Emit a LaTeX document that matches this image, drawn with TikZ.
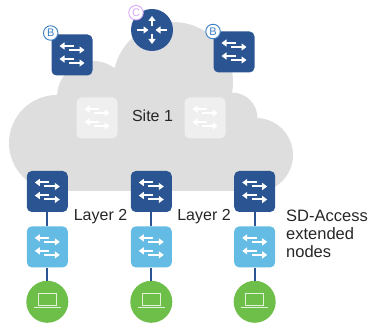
\documentclass[tikz,border=0pt]{standalone}
\usepackage{fontspec}
\setmainfont{Liberation Sans}
\usetikzlibrary{arrows.meta,positioning}
\definecolor{cloudgray}{HTML}{DEDEDE}
\definecolor{darkblue}{HTML}{2B5592}
\definecolor{lightblue}{HTML}{64BBE3}
\definecolor{lightgreen}{HTML}{6EBE4A}
\definecolor{paleswitch}{HTML}{EFEFEF}
\definecolor{badgeblue}{HTML}{3A7FC4}
\definecolor{badgepurple}{HTML}{D9A6F5}
\tikzset{
  flow/.style={white,line width=2pt,-{Triangle[length=5pt,width=7pt]}},
  switchbox/.style={rectangle,fill=#1,rounded corners=5pt,minimum size=41pt,inner sep=0pt,
    path picture={
      \begin{scope}[shift={(path picture bounding box.center)}]
        \draw [flow] (2,-9) -- (-12.5,-9);
        \draw [flow] (-3,-5) -- (12.5,-5);
        \draw [flow] (2,4) -- (-12.5,4);
        \draw [flow] (-3,8) -- (12.5,8);
      \end{scope}
    }},
  routerdot/.style={circle,fill=darkblue,minimum size=42pt,inner sep=0pt,
    path picture={
      \begin{scope}[shift={(path picture bounding box.center)}]
        \draw [flow] (0,-4) -- (0,-14);
        \draw [flow] (0,4) -- (0,14);
        \draw [flow] (-15,0) -- (-3.5,0);
        \draw [flow] (15,0) -- (3.5,0);
      \end{scope}
    }},
  laptopdot/.style={circle,fill=lightgreen,minimum size=42pt,inner sep=0pt,
    path picture={
      \begin{scope}[shift={(path picture bounding box.center)}]
        \draw [draw=white!80!lightgreen,line width=1.2pt] (-9,3.5) rectangle (9,-8);
        \draw [draw=white!80!lightgreen,line width=1.2pt] (-13.5,6) -- (13.5,6);
      \end{scope}
    }},
  badge/.style={circle,draw=#1,fill=white,text=#1,line width=0.9pt,minimum size=14.5pt,
    inner sep=0pt,font=\fontsize{11}{11}\selectfont},
  uplink/.style={darkblue,line width=2pt},
  caption/.style={font=\fontsize{16}{18}\selectfont,text=black!85,inner sep=0pt}
}
\begin{document}
\begin{tikzpicture}[x=1pt,y=-1pt]
    \useasboundingbox (0,0) rectangle (375,323);
    % cloud
    \fill [cloudgray] (57,143) circle (48) (93,97) circle (36) (173,82) circle (60)
      (232,118) circle (25.5) (256,155) circle (37)
      (57,191) rectangle (256,110);
    % top row
    \node [switchbox=darkblue] (borderl) at (72,55) {};
    \node [switchbox=darkblue] (borderr) at (234,52) {};
    \node [routerdot] (control) at (152,30) {};
    \node [badge=badgeblue] (badgel) at (50.7,33) {B};
    \node [badge=badgeblue] (badger) at (213,31.5) {B};
    \node [badge=badgepurple] (badgec) at (136,12.7) {C};
    % site
    \node [switchbox=paleswitch] (fabricl) at (97,118) {};
    \node [switchbox=paleswitch] (fabricr) at (205,118) {};
    \node [caption] (site) at (152.5,116) {Site 1};
    % columns
    \foreach \name/\px in {a/47.3,b/151.3,c/254.7} {
      \node [switchbox=darkblue] (edge\name) at (\px,191.5) {};
      \node [switchbox=lightblue,below=14pt of edge\name] (ext\name) {};
      \node [laptopdot,below=13pt of ext\name] (host\name) {};
      \draw [uplink] (edge\name) -- (ext\name);
      \draw [uplink] (ext\name) -- (host\name);
    }
    \node [caption] (layerl) at (100.5,217) {Layer 2};
    \node [caption] (layerr) at (204,217) {Layer 2};
    \node [caption,font=\fontsize{16.5}{18}\selectfont,align=left,anchor=north west] (extended) at (286,210) {SD-Access\\extended\\nodes};
\end{tikzpicture}
\end{document}
